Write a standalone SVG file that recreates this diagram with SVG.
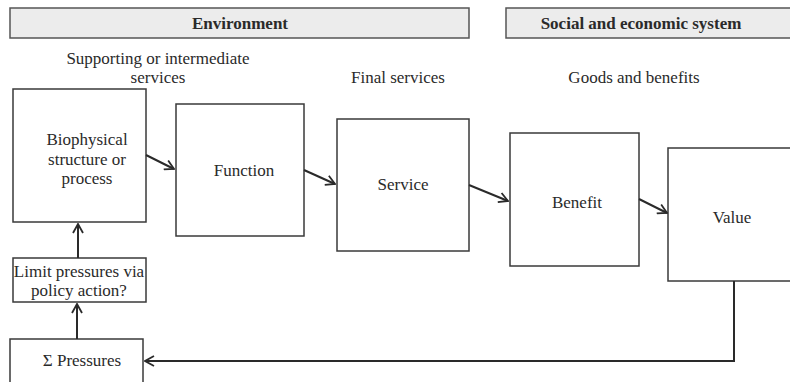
<svg xmlns="http://www.w3.org/2000/svg" width="790" height="382" viewBox="0 0 790 382">
<defs>
<style>
.box{fill:#fff;stroke:#3a3a3a;stroke-width:1.5}
.hdr{fill:#ececec;stroke:#555;stroke-width:1.5}
.t{font-family:"Liberation Serif","DejaVu Serif",serif;font-size:17px;fill:#2a2a2a;text-anchor:middle}
.h{font-family:"Liberation Serif","DejaVu Serif",serif;font-size:17px;font-weight:bold;fill:#2a2a2a;text-anchor:middle}
.c{fill:none;stroke:#2a2a2a;stroke-width:2}
</style>
<marker id="ah" viewBox="0 0 12 12" refX="11" refY="6" markerWidth="12" markerHeight="12" markerUnits="userSpaceOnUse" orient="auto">
<path d="M2,1 L11,6 L2,11" fill="none" stroke="#2a2a2a" stroke-width="1.8"/>
</marker>
</defs>
<rect width="790" height="382" fill="#fff"/>
<g id="hdr-env"><rect class="hdr" x="10" y="8" width="459" height="30"/><text class="h" x="240" y="29">Environment</text></g>
<g id="hdr-soc"><rect class="hdr" x="506" y="8" width="300" height="30"/><text class="h" x="641" y="29">Social and economic system</text></g>
<g id="lbl-supporting"><text class="t" x="158" y="64">Supporting or intermediate</text><text class="t" x="158" y="83">services</text></g>
<g id="lbl-final"><text class="t" x="398" y="83">Final services</text></g>
<g id="lbl-goods"><text class="t" x="634" y="83">Goods and benefits</text></g>
<g id="n-bio"><rect class="box" x="13" y="89" width="133" height="133"/><text class="t" x="87" y="145">Biophysical</text><text class="t" x="87" y="165">structure or</text><text class="t" x="87" y="184">process</text></g>
<g id="n-function"><rect class="box" x="176" y="104" width="128" height="132"/><text class="t" x="244" y="176">Function</text></g>
<g id="n-service"><rect class="box" x="337" y="119" width="132" height="132"/><text class="t" x="403" y="190">Service</text></g>
<g id="n-benefit"><rect class="box" x="510" y="133" width="129" height="133"/><text class="t" x="577" y="208">Benefit</text></g>
<g id="n-value"><rect class="box" x="668" y="148" width="140" height="133"/><text class="t" x="732" y="223">Value</text></g>
<g id="n-limit"><rect class="box" x="13" y="258" width="133" height="44"/><text class="t" x="79" y="277">Limit pressures via</text><text class="t" x="79" y="296">policy action?</text></g>
<g id="n-pressures"><rect class="box" x="10" y="339" width="133" height="60"/><text class="t" x="82" y="366">Σ Pressures</text></g>
<g id="connectors">
<line class="c" x1="146" y1="155" x2="174" y2="169" marker-end="url(#ah)"/>
<line class="c" x1="304" y1="170" x2="335" y2="184" marker-end="url(#ah)"/>
<line class="c" x1="469" y1="185" x2="508" y2="201" marker-end="url(#ah)"/>
<line class="c" x1="639" y1="199" x2="667" y2="213" marker-end="url(#ah)"/>
<line class="c" x1="78" y1="258" x2="78" y2="224" marker-end="url(#ah)"/>
<line class="c" x1="77" y1="339" x2="77" y2="304" marker-end="url(#ah)"/>
<polyline class="c" points="734,281 734,361 145,361" marker-end="url(#ah)"/>
</g>
</svg>
